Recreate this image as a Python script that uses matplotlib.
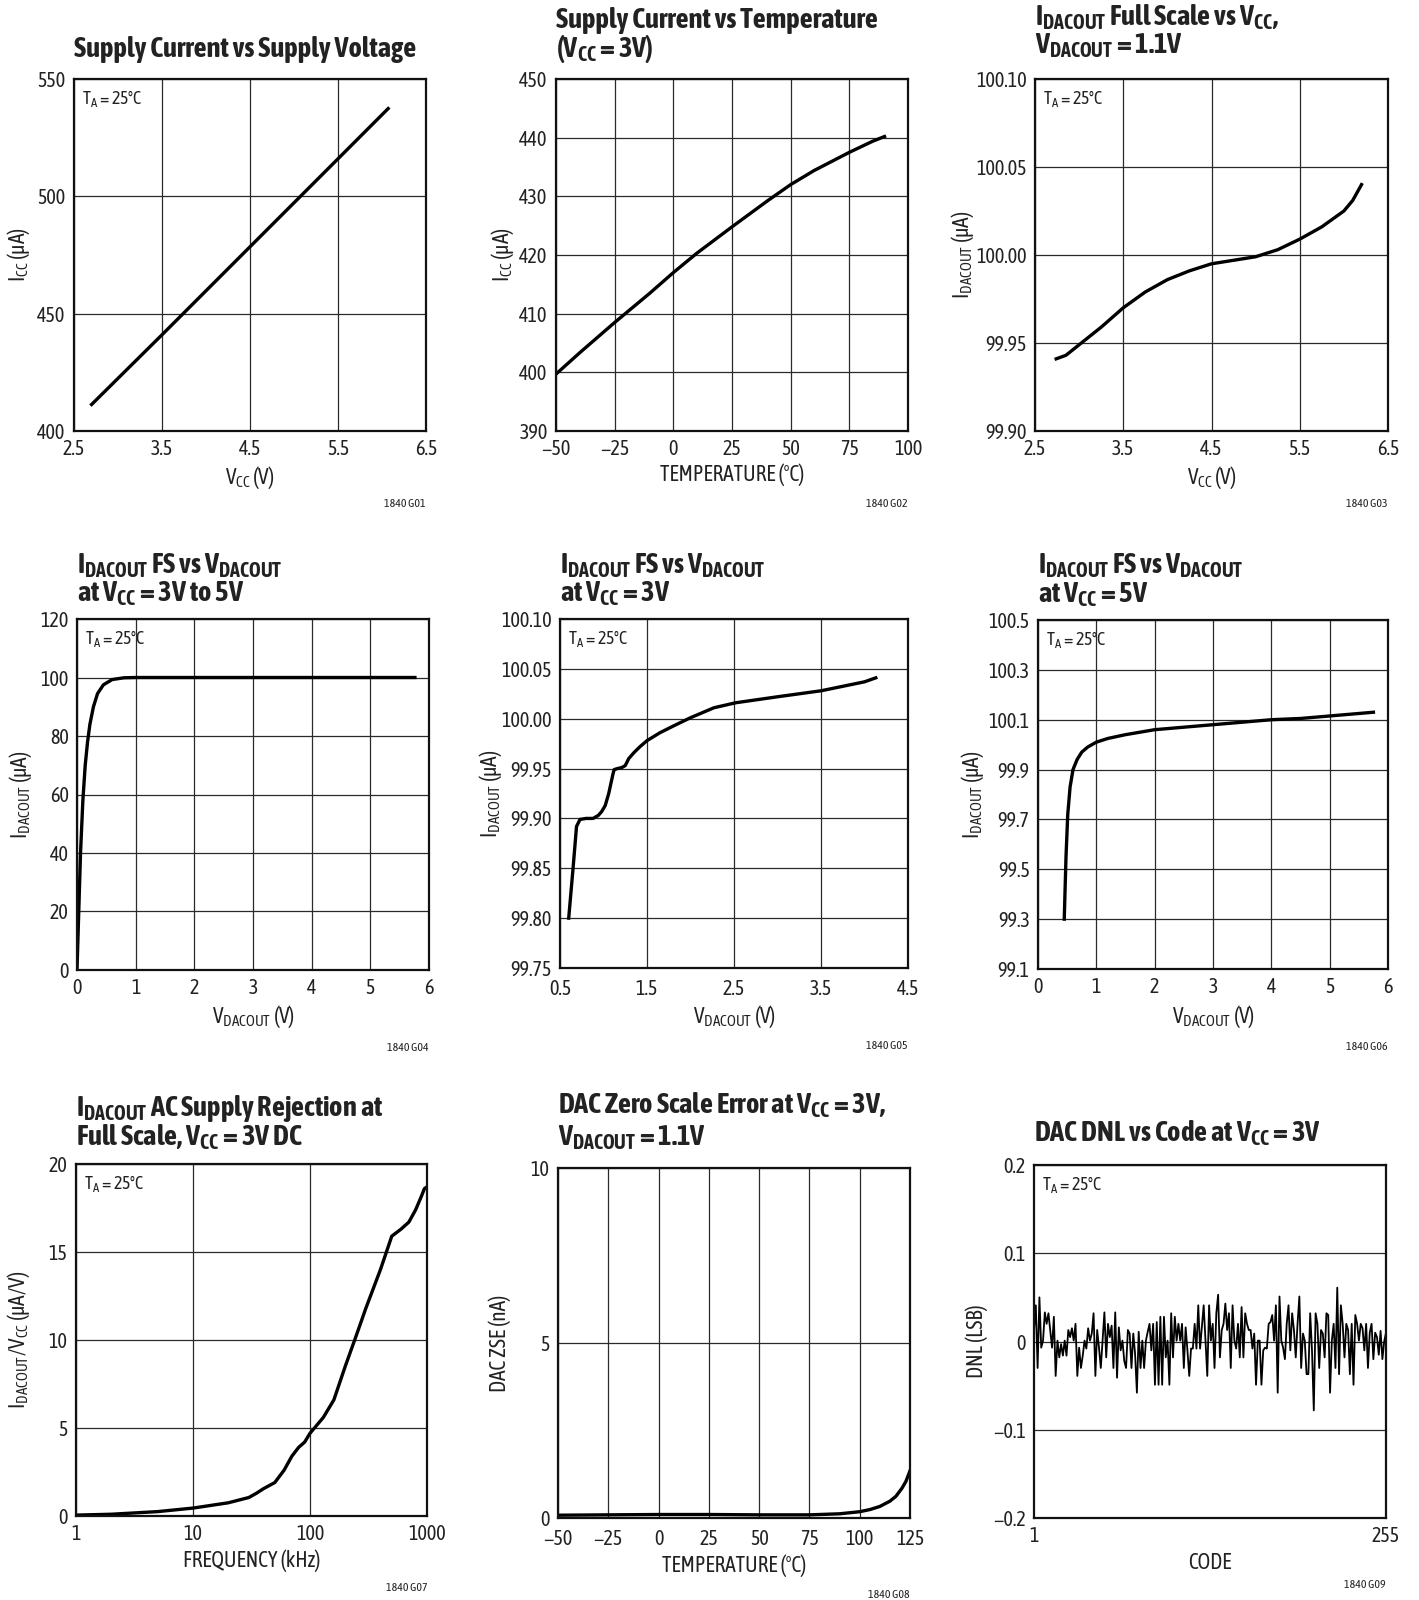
import matplotlib
matplotlib.use('Agg')
import matplotlib.pyplot as plt
import numpy as np
from matplotlib import font_manager
from matplotlib.transforms import offset_copy

# the datasheet uses a condensed face; take the closest installed upright one
STR = {'ultra-condensed': 100, 'extra-condensed': 200, 'condensed': 300,
       'semi-condensed': 400, 'normal': 500}


def num(s, table):
    try:
        return int(s)
    except (TypeError, ValueError):
        return table.get(str(s), 500)


faces = {}
for f in font_manager.fontManager.ttflist:
    st = num(f.stretch, STR)
    if f.style == 'normal' and st < 500:
        faces.setdefault((f.name, f.stretch, st), set()).add(num(f.weight, font_manager.weight_dict))
good = [k for k, ws in faces.items() if min(ws) <= 500 and max(ws) >= 600]
if good:
    best = min(good, key=lambda k: (abs(k[2] - 300), k[0]))
    FONT, STRETCH = best[0], best[1]
    TS, LS, AS, TAS = 20.5, 14.5, 15.5, 13
else:
    FONT, STRETCH = 'Liberation Sans', 'normal'
    TS, LS, AS, TAS = 16, 12, 12.5, 12
plt.rcParams['font.family'] = [FONT, 'DejaVu Sans']
plt.rcParams['font.stretch'] = STRETCH
plt.rcParams['font.style'] = 'normal'
plt.rcParams['mathtext.default'] = 'regular'

W, H = 1419, 1600
TXT = '#222222'

# G01 supply current vs supply voltage
g01_vcc = [2.7, 3.5, 4.5, 5.5, 6.07]
g01_icc = [411.3, 441.0, 478.5, 516.0, 537.4]

# G02 supply current vs temperature
g02_temp = [-50, -40, -25, -10, 0, 10, 25, 40, 50, 60, 75, 85, 90]
g02_icc = [399.7, 403.3, 408.5, 413.5, 417.0, 420.3, 424.8, 429.2, 432.0, 434.4, 437.5, 439.4, 440.2]

# G03 full scale vs vcc
g03_vcc = [2.74, 2.85, 3.0, 3.25, 3.5, 3.75, 4.0, 4.25, 4.5, 4.75, 5.0, 5.25, 5.5, 5.75, 6.0, 6.1, 6.2]
g03_i = [99.941, 99.943, 99.949, 99.959, 99.970, 99.979, 99.986, 99.991, 99.995, 99.997,
         99.999, 100.003, 100.009, 100.016, 100.025, 100.031, 100.040]

# G04 FS vs VDACOUT, 3V to 5V
g04_v = [0, 0.03, 0.06, 0.1, 0.14, 0.18, 0.22, 0.28, 0.35, 0.45, 0.6, 0.8, 1.0, 1.3, 5.76]
g04_i = [0, 20, 40, 58, 70, 78, 84, 90, 94.5, 97.5, 99.3, 99.9, 100, 100, 100]

# G05 FS vs VDACOUT, 3V
g05_v = [0.60, 0.65, 0.69, 0.73, 0.80, 0.88, 0.94, 0.98, 1.02, 1.06, 1.09, 1.11, 1.123, 1.16,
         1.21, 1.25, 1.29, 1.35, 1.42, 1.50, 1.65, 1.81, 2.0, 2.27, 2.52, 3.0, 3.5, 4.0, 4.13]
g05_i = [99.80, 99.85, 99.892, 99.899, 99.900, 99.900, 99.903, 99.907, 99.913, 99.925, 99.937,
         99.945, 99.949, 99.950, 99.951, 99.953, 99.960, 99.966, 99.972, 99.978, 99.986, 99.993,
         100.001, 100.011, 100.016, 100.022, 100.028, 100.037, 100.041]

# G06 FS vs VDACOUT, 5V
g06_v = [0.45, 0.48, 0.51, 0.55, 0.6, 0.67, 0.75, 0.85, 1.0, 1.2, 1.5, 2.0, 2.5, 3.0, 3.5,
         4.0, 4.5, 5.0, 5.5, 5.75]
g06_i = [99.30, 99.55, 99.72, 99.83, 99.90, 99.94, 99.97, 99.99, 100.01, 100.025, 100.04,
         100.06, 100.07, 100.08, 100.09, 100.10, 100.105, 100.115, 100.125, 100.13]

# G07 AC supply rejection
g07_f = [1, 2, 5, 10, 20, 30, 35, 40, 50, 60, 70, 80, 90, 100, 130, 160, 200, 250, 300, 400,
         500, 600, 700, 800, 900, 950, 1000]
g07_r = [0.05, 0.1, 0.25, 0.45, 0.75, 1.05, 1.3, 1.55, 1.9, 2.6, 3.4, 3.9, 4.2, 4.7, 5.6, 6.6,
         8.5, 10.3, 11.8, 14.0, 15.9, 16.3, 16.7, 17.4, 18.2, 18.6, 18.7]

# G08 zero scale error
g08_temp = [-50, -25, 0, 25, 50, 75, 90, 100, 105, 110, 115, 118, 121, 123, 125]
g08_zse = [0.08, 0.09, 0.1, 0.1, 0.09, 0.09, 0.12, 0.18, 0.24, 0.33, 0.48, 0.62, 0.85, 1.05, 1.35]

# G09 DNL vs code
g09_dnl = [
    0.013, 0.041, -0.030, 0.050, -0.007, 0.001, 0.033, 0.020, 0.032, 0.013, -0.007, 0.028,
    -0.039, 0.001, -0.018, -0.003, -0.016, 0.001, -0.016, 0.013, 0.005, 0.015, 0.001, 0.020,
    -0.039, -0.007, -0.030, -0.016, 0.001, -0.008, 0.015, 0.001, 0.009, 0.032, -0.039, 0.013,
    -0.007, -0.030, 0.001, 0.033, -0.018, 0.020, 0.005, 0.018, -0.030, 0.033, -0.041, 0.016,
    -0.010, 0.001, -0.022, -0.030, 0.013, 0.009, -0.030, 0.009, -0.014, -0.058, 0.011, -0.030,
    0.001, -0.030, 0.001, 0.011, 0.020, -0.010, 0.020, -0.049, 0.022, -0.049, 0.028, -0.049,
    0.028, -0.018, 0.001,
    -0.049, 0.032, -0.018, 0.028, 0.001, 0.020, 0.001, 0.020, -0.030, 0.016, -0.010, -0.039,
    -0.008, -0.008, 0.020, -0.008, 0.041, -0.008, 0.016, 0.041, 0.001, -0.039, 0.041, 0.001,
    0.020, -0.030, 0.032, 0.053, -0.018, 0.013, 0.020, 0.043, 0.013, 0.032, -0.030, 0.041,
    0.001, -0.008, 0.020, -0.018, 0.039, -0.018, 0.032, 0.020, 0.013, 0.013, -0.008, 0.009,
    -0.049, 0.001, 0.001, -0.049, -0.010, -0.007, -0.008, 0.020, 0.022, 0.030, 0.001, 0.041,
    -0.058, 0.051, 0.001, -0.007, -0.020, 0.020, 0.041, -0.010, 0.032, 0.013, -0.018, 0.020,
    0.051, -0.030, 0.009, 0.001, -0.037, -0.037, 0.032, -0.010, -0.078, 0.032, 0.020, -0.030,
    0.013, 0.009, -0.018, 0.032, 0.030, -0.058, 0.001, 0.020, -0.030, 0.061, -0.037, 0.041,
    0.020, -0.018, 0.020, 0.013, -0.037, 0.020, -0.049, 0.030, 0.020, 0.001, 0.020,
    0.015, -0.010, 0.020, -0.030, 0.010, 0.020, -0.020, 0.010, 0.005, -0.015, 0.012, -0.020,
    0.000, 0.010]
g09_code = np.linspace(1, 255, len(g09_dnl))

fig = plt.figure(figsize=(W / 100, H / 100), dpi=100)


def place(l, t, r, b):
    ax = fig.add_axes([l / W, 1 - b / H, (r - l) / W, (b - t) / H])
    return ax, (r - l), (b - t)


def style(ax, w, h, xt, xl, yt, yl, xlab, ylab, xoff, yoff, gridaxis='both'):
    ax.set_xticks(xt, xl)
    ax.set_yticks(yt, yl)
    ax.set_xlim(xt[0], xt[-1])
    ax.set_ylim(yt[0], yt[-1])
    ax.tick_params(length=0, labelsize=LS, pad=6, colors=TXT)
    ax.grid(axis=gridaxis, color='#2a2a2a', lw=0.9)
    for sp in ax.spines.values():
        sp.set_linewidth(1.6)
        sp.set_color('#111111')
    ax.set_xlabel(xlab, fontsize=AS, color=TXT)
    ax.set_ylabel(ylab, fontsize=AS, color=TXT)
    ax.xaxis.set_label_coords(0.5, -xoff / h)
    ax.xaxis.label.set_va('center')
    ax.yaxis.set_label_coords(-yoff / w, 0.5)
    ax.yaxis.label.set_va('center')


def title(ax, lines, gap, step=29):
    n = len(lines)
    for i, s in enumerate(lines):
        tr = offset_copy(ax.transAxes, fig=fig, x=0, y=gap + (n - 1 - i) * step, units='dots')
        ax.text(0, 1, s, transform=tr, fontsize=TS, fontweight='bold', color=TXT,
                ha='left', va='baseline')


def ta(ax):
    tr = offset_copy(ax.transAxes, fig=fig, x=8, y=-9, units='dots')
    ax.text(0, 1, 'T$_A$ = 25°C', transform=tr, fontsize=TAS, color=TXT, ha='left', va='top')


def tag(ax, s, below):
    tr = offset_copy(ax.transAxes, fig=fig, x=0, y=-below, units='dots')
    ax.text(1, 0, s, transform=tr, fontsize=8.5, color=TXT, ha='right', va='baseline')


LW = 2.4

# row 1
ax, w, h = place(74, 79, 426, 431)
ax.plot(g01_vcc, g01_icc, color='black', lw=LW)
style(ax, w, h, [2.5, 3.5, 4.5, 5.5, 6.5], ['2.5', '3.5', '4.5', '5.5', '6.5'],
      [400, 450, 500, 550], ['400', '450', '500', '550'], 'V$_{CC}$ (V)', 'I$_{CC}$ (µA)', 47, 56)
title(ax, ['Supply Current vs Supply Voltage'], 22)
ta(ax)
tag(ax, '1840 G01', 76)

ax, w, h = place(556, 79, 908, 431)
ax.plot(g02_temp, g02_icc, color='black', lw=LW)
temps = [-50, -25, 0, 25, 50, 75, 100]
style(ax, w, h, temps, ['\u221250', '\u221225', '0', '25', '50', '75', '100'],
      [390, 400, 410, 420, 430, 440, 450], ['390', '400', '410', '420', '430', '440', '450'],
      'TEMPERATURE (°C)', 'I$_{CC}$ (µA)', 44, 54)
title(ax, ['Supply Current vs Temperature', '(V$_{CC}$ = 3V)'], 22)
tag(ax, '1840 G02', 76)

ax, w, h = place(1035, 79, 1388, 431)
ax.plot(g03_vcc, g03_i, color='black', lw=LW)
style(ax, w, h, [2.5, 3.5, 4.5, 5.5, 6.5], ['2.5', '3.5', '4.5', '5.5', '6.5'],
      [99.90, 99.95, 100.00, 100.05, 100.10], ['99.90', '99.95', '100.00', '100.05', '100.10'],
      'V$_{CC}$ (V)', 'I$_{DACOUT}$ (µA)', 47, 72)
title(ax, ['I$_{DACOUT}$ Full Scale vs V$_{CC}$,', 'V$_{DACOUT}$ = 1.1V'], 26, 27)
ta(ax)
tag(ax, '1840 G03', 76)

# row 2
ax, w, h = place(77, 619, 429, 970)
ax.plot(g04_v, g04_i, color='black', lw=LW)
style(ax, w, h, [0, 1, 2, 3, 4, 5, 6], ['0', '1', '2', '3', '4', '5', '6'],
      [0, 20, 40, 60, 80, 100, 120], ['0', '20', '40', '60', '80', '100', '120'],
      'V$_{DACOUT}$ (V)', 'I$_{DACOUT}$ (µA)', 47, 57)
title(ax, ['I$_{DACOUT}$ FS vs V$_{DACOUT}$', 'at V$_{CC}$ = 3V to 5V'], 17)
ta(ax)
tag(ax, '1840 G04', 81)

ax, w, h = place(560, 619, 908, 968)
ax.plot(g05_v, g05_i, color='black', lw=LW)
style(ax, w, h, [0.5, 1.5, 2.5, 3.5, 4.5], ['0.5', '1.5', '2.5', '3.5', '4.5'],
      [99.75, 99.80, 99.85, 99.90, 99.95, 100.00, 100.05, 100.10],
      ['99.75', '99.80', '99.85', '99.90', '99.95', '100.00', '100.05', '100.10'],
      'V$_{DACOUT}$ (V)', 'I$_{DACOUT}$ (µA)', 49, 70)
ax.tick_params(axis='x', pad=8)
title(ax, ['I$_{DACOUT}$ FS vs V$_{DACOUT}$', 'at V$_{CC}$ = 3V'], 17)
ta(ax)
tag(ax, '1840 G05', 81)

ax, w, h = place(1038, 620, 1388, 969)
ax.plot(g06_v, g06_i, color='black', lw=LW)
style(ax, w, h, [0, 1, 2, 3, 4, 5, 6], ['0', '1', '2', '3', '4', '5', '6'],
      [99.1, 99.3, 99.5, 99.7, 99.9, 100.1, 100.3, 100.5],
      ['99.1', '99.3', '99.5', '99.7', '99.9', '100.1', '100.3', '100.5'],
      'V$_{DACOUT}$ (V)', 'I$_{DACOUT}$ (µA)', 47, 66)
title(ax, ['I$_{DACOUT}$ FS vs V$_{DACOUT}$', 'at V$_{CC}$ = 5V'], 17)
ta(ax)
tag(ax, '1840 G06', 81)

# row 3
ax, w, h = place(76, 1164, 427, 1516)
ax.set_xscale('log')
ax.plot(g07_f, g07_r, color='black', lw=LW)
style(ax, w, h, [1, 10, 100, 1000], ['1', '10', '100', '1000'],
      [0, 5, 10, 15, 20], ['0', '5', '10', '15', '20'],
      'FREQUENCY (kHz)', 'I$_{DACOUT}$/V$_{CC}$ (µA/V)', 45, 58)
ax.minorticks_off()
title(ax, ['I$_{DACOUT}$ AC Supply Rejection at', 'Full Scale, V$_{CC}$ = 3V DC'], 19)
ta(ax)
tag(ax, '1840 G07', 75)

ax, w, h = place(558, 1168, 910, 1518)
ax.plot(g08_temp, g08_zse, color='black', lw=LW)
style(ax, w, h, [-50, -25, 0, 25, 50, 75, 100, 125],
      ['\u221250', '\u221225', '0', '25', '50', '75', '100', '125'],
      [0, 5, 10], ['0', '5', '10'], 'TEMPERATURE (°C)', 'DAC ZSE (nA)', 48, 58)
ax.tick_params(axis='x', pad=8)
title(ax, ['DAC Zero Scale Error at V$_{CC}$ = 3V,', 'V$_{DACOUT}$ = 1.1V'], 23, 32)
tag(ax, '1840 G08', 80)

ax, w, h = place(1034, 1165, 1386, 1518)
ax.plot(g09_code, g09_dnl, color='black', lw=1.3)
style(ax, w, h, [1, 255], ['1', '255'],
      [-0.2, -0.1, 0, 0.1, 0.2], ['\u22120.2', '\u22120.1', '0', '0.1', '0.2'],
      'CODE', 'DNL (LSB)', 45, 57, gridaxis='y')
title(ax, ['DAC DNL vs Code at V$_{CC}$ = 3V'], 23)
ta(ax)
tag(ax, '1840 G09', 70)

fig.savefig('out.png', dpi=100)
